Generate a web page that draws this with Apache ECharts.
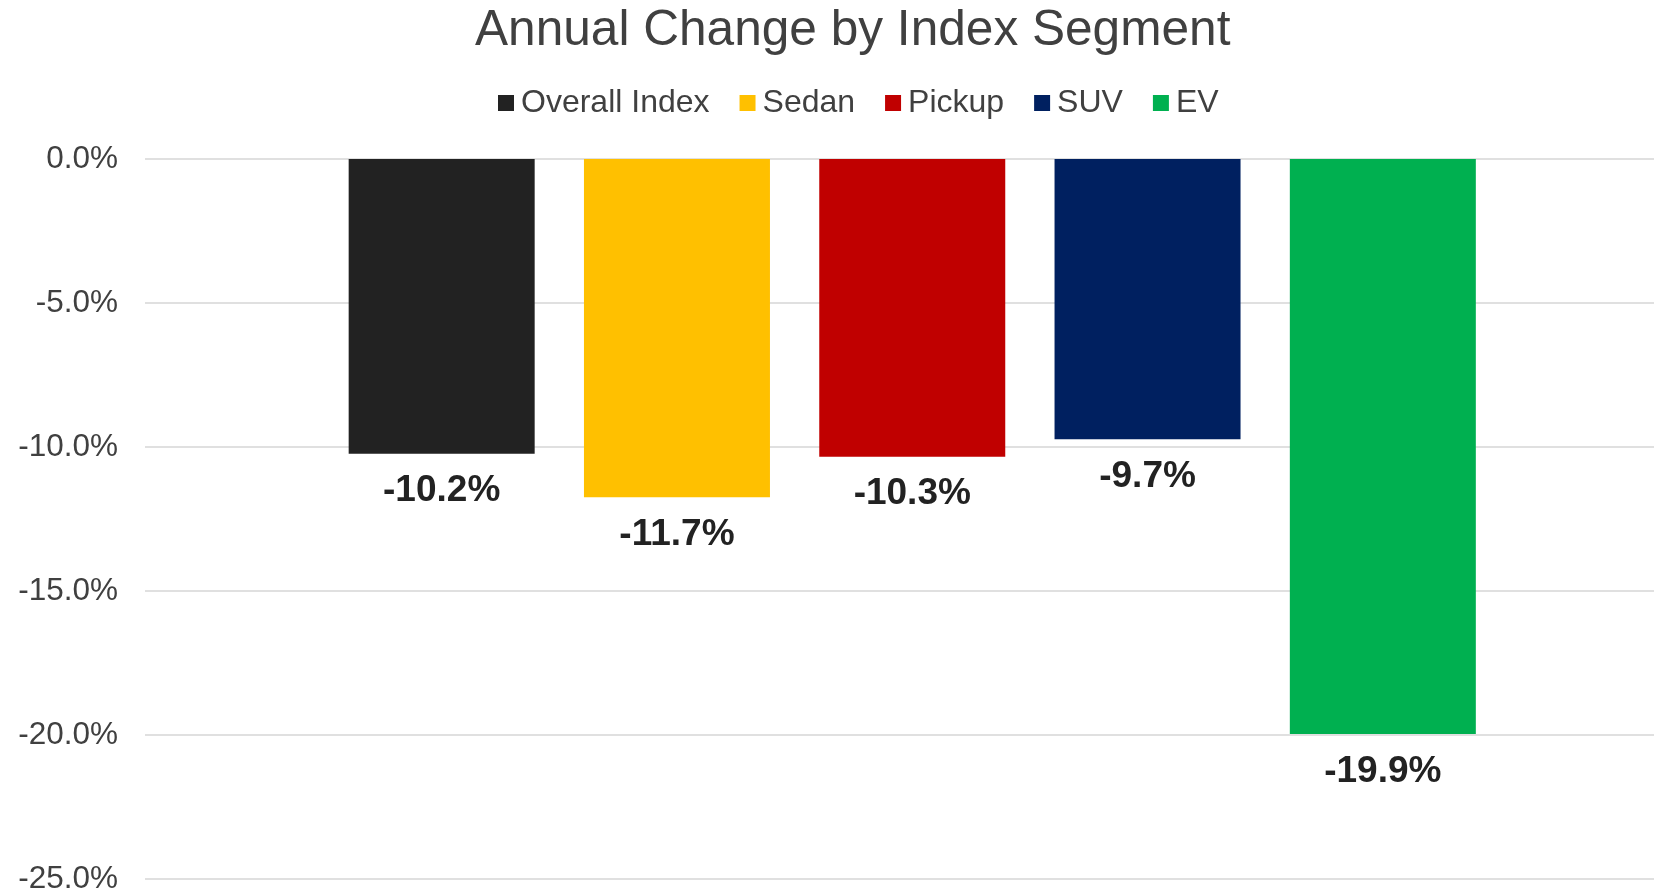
<!DOCTYPE html>
<html>
<head>
<meta charset="utf-8">
<script src="https://cdn.jsdelivr.net/npm/echarts@6/dist/echarts.min.js"></script>
<style>
html,body{margin:0;padding:0;background:#fff;}
#chart{width:1654px;height:895px;}
</style>
</head>
<body>
<div id="chart"></div>
<script>
var seriesNames = ['Overall Index', 'Sedan', 'Pickup', 'SUV', 'EV'];
var seriesValues = [-10.2, -11.7, -10.3, -9.7, -19.9];
var seriesColors = ['#222222', '#FFC000', '#C00000', '#002060', '#00B050'];
var yTicks = {min: -25, max: 0, interval: 5};

var FONT = '"Liberation Sans", Arial, sans-serif';
var chart = echarts.init(document.getElementById('chart'), null, {renderer: 'canvas'});

var series = seriesNames.map(function (name, i) {
  return {
    name: name,
    type: 'bar',
    xAxisIndex: 1,
    yAxisIndex: 1,
    data: [seriesValues[i]],
    barWidth: 186,
    barGap: '26.5%',
    itemStyle: {color: seriesColors[i]},
    label: {
      show: true,
      position: 'bottom',
      distance: 19,
      fontFamily: FONT,
      fontSize: 37,
      fontWeight: 'bold',
      color: '#222222',
      formatter: function (p) { return p.value.toFixed(1) + '%'; }
    }
  };
});

chart.setOption({
  animation: false,
  backgroundColor: '#ffffff',
  title: {
    text: 'Annual Change by Index Segment',
    left: 470,
    top: 1,
    textStyle: {fontFamily: FONT, fontSize: 49.6, fontWeight: 'normal', color: '#404040'}
  },
  legend: {
    data: seriesNames,
    left: 493,
    top: 82,
    icon: 'rect',
    itemWidth: 16,
    itemHeight: 16,
    itemGap: 30,
    textStyle: {fontFamily: FONT, fontSize: 32, color: '#404040', padding: [0, 0, 0, 2]}
  },
  grid: [
    {left: 145, right: 0, top: 159, bottom: 13.5, containLabel: false},
    {left: 170.5, right: 0, top: 159, bottom: 13.5, containLabel: false}
  ],
  xAxis: [
    {type: 'category', gridIndex: 0, data: [''], axisLine: {show: false}, axisTick: {show: false}, axisLabel: {show: false}},
    {type: 'category', gridIndex: 1, data: [''], axisLine: {show: false}, axisTick: {show: false}, axisLabel: {show: false}}
  ],
  yAxis: [
    {
      type: 'value',
      gridIndex: 0,
      min: yTicks.min,
      max: yTicks.max,
      interval: yTicks.interval,
      axisLine: {show: false},
      axisTick: {show: false},
      splitLine: {show: true, lineStyle: {color: '#E0E0E0', width: 2}},
      axisLabel: {
        fontFamily: FONT,
        fontSize: 31.5,
        color: '#404040',
        margin: 27,
        formatter: function (v) { return v.toFixed(1) + '%'; }
      }
    },
    {
      type: 'value',
      gridIndex: 1,
      min: yTicks.min,
      max: yTicks.max,
      interval: yTicks.interval,
      axisLine: {show: false},
      axisTick: {show: false},
      splitLine: {show: false},
      axisLabel: {show: false}
    }
  ],
  series: series
});
</script>
</body>
</html>
